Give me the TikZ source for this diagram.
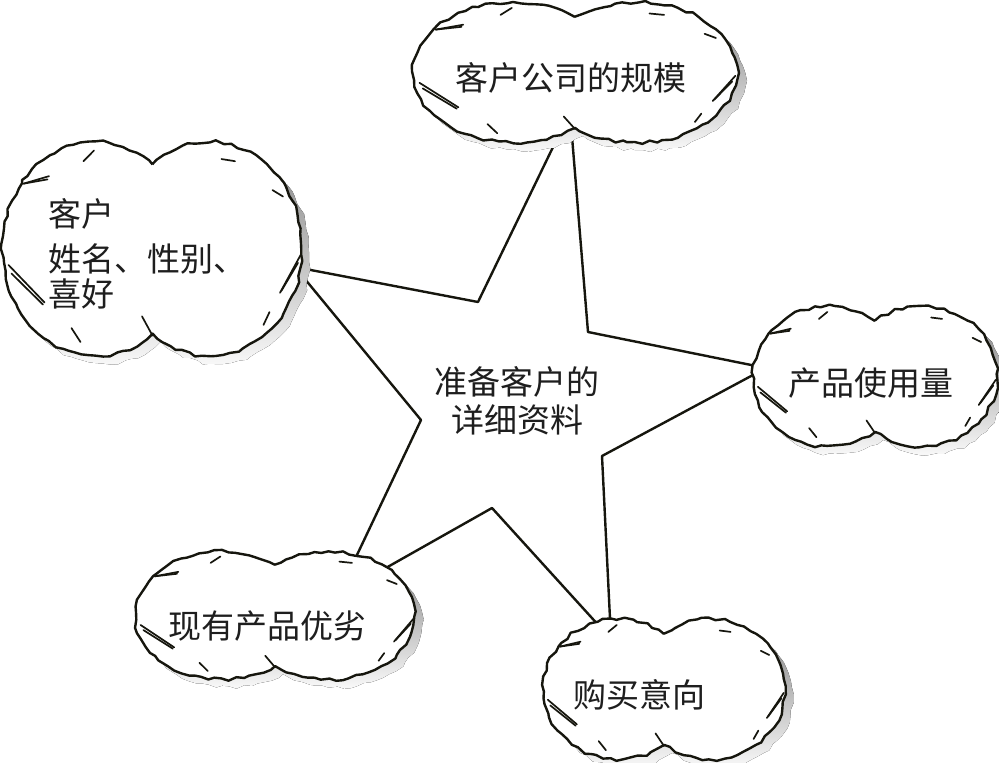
\documentclass[tikz,border=0pt]{standalone}
\usepackage{fontspec}
\newfontfamily\cjk{Noto Sans CJK SC}
\usetikzlibrary{decorations.pathmorphing}
\definecolor{ink}{HTML}{16160E}
\definecolor{shade}{HTML}{C6C6C6}
\definecolor{txt}{HTML}{1E1E1E}
\tikzset{
  outline/.style={draw=ink,line width=2.4pt,line join=round},
  rough/.style={decorate,decoration={random steps,segment length=7pt,amplitude=1.6pt}},
  tick/.style={draw=ink,line width=1.7pt,line cap=round},
  label/.style={font=\cjk\fontsize{33}{38}\selectfont,text=txt,inner sep=0pt},
}
% #1 cx, #2 cy, #3 a, #4 b, #5 seed
\newcommand\mkcloud[5]{%
  \pgfmathsetmacro\cldrx{0.62*#3}%
  \pgfmathsetmacro\cldh{0.80*#4}%
  \def\cldx{#1}\def\cldy{#2}\def\clda{#3}\def\cldb{#4}%
  \pgfmathsetseed{#5}%
  \fill[shade,rough] (#1+8,#2+8-\cldh)
     arc[start angle=-52.2,end angle=-307.8,x radius=\cldrx,y radius=#4]
     arc[start angle=127.8,end angle=-127.8,x radius=\cldrx,y radius=#4] -- cycle;
  \pgfmathsetseed{#5}%
  \path[outline,fill=white,rough] (#1,#2-\cldh)
     arc[start angle=-52.2,end angle=-307.8,x radius=\cldrx,y radius=#4]
     arc[start angle=127.8,end angle=-127.8,x radius=\cldrx,y radius=#4] -- cycle;
  \cldtk{-0.86}{-0.62}{-0.69}{-0.69}\cldtk{-0.86}{-0.62}{-0.70}{-0.66}%
  \cldtk{-0.46}{-0.83}{-0.39}{-0.93}%
  \cldtk{-0.96}{0.14}{-0.72}{0.49}\cldtk{-0.94}{0.22}{-0.73}{0.51}%
  \cldtk{-0.54}{0.73}{-0.48}{0.86}%
  \cldtk{-0.07}{0.62}{0.0}{0.80}%
  \cldtk{0.99}{0.04}{0.85}{0.40}\cldtk{0.97}{0.12}{0.86}{0.38}%
  \cldtk{0.78}{0.58}{0.74}{0.70}%
  \cldtk{0.46}{-0.85}{0.55}{-0.83}%
  \cldtk{0.80}{-0.56}{0.87}{-0.50}%
}
\newcommand\cldtk[4]{%
  \draw[tick] (\cldx+#1*\clda,\cldy+#2*\cldb) -- (\cldx+#3*\clda,\cldy+#4*\cldb);%
}
\begin{document}
\begin{tikzpicture}[x=1pt,y=-1pt]
\useasboundingbox (0,0) rectangle (999,763);
\fill[white] (0,0) rectangle (999,763);
% star
\coordinate (sT) at (570,112);
\coordinate (sA) at (478,302);
\coordinate (sL) at (295,267);
\coordinate (sC) at (421,420);
\coordinate (sBL) at (338,595);
\coordinate (sD) at (492,508);
\coordinate (sBR) at (611,639);
\coordinate (sE) at (602,456);
\coordinate (sR) at (766,368);
\coordinate (sB) at (588,332);
\fill[shade,shift={(4,4)}] (sT) -- (sB) -- (sR) -- (sE) -- (sBR) -- (sD) -- (sBL) -- (sC) -- (sL) -- (sA) -- cycle;
\path[outline,fill=white] (sT) -- (sB) -- (sR) -- (sE) -- (sBR) -- (sD) -- (sBL) -- (sC) -- (sL) -- (sA) -- cycle;
% clouds
\mkcloud{575}{73}{162}{70}{11}
\node[label] (size) at (571,78) {客户公司的规模};
\mkcloud{152.5}{250}{150}{107}{23}
\node[label,align=left,anchor=west] (client) at (48,254) {客户\\[7pt]姓名、性别、\\[-3pt]喜好};
\mkcloud{875}{377}{122}{70}{37}
\node[label] (usage) at (871,383) {产品使用量};
\mkcloud{275}{616}{140}{64}{41}
\node[label] (merit) at (267,626) {现有产品优劣};
\mkcloud{664}{690}{121}{70}{53}
\node[label] (intent) at (639,695) {购买意向};
% centre text
\node[label,align=center] (centre) at (517,401) {准备客户的\\详细资料};
\end{tikzpicture}
\end{document}
